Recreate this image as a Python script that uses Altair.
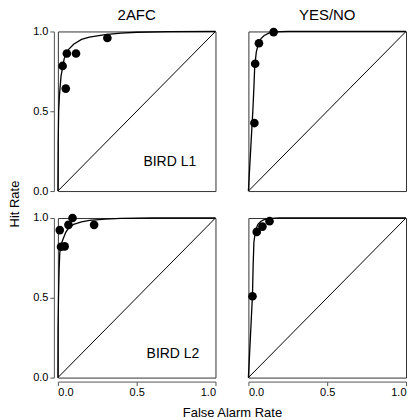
import altair as alt
import pandas as pd

# ---- data ----
tasks = ["2AFC", "YES/NO"]
birds = ["BIRD L1", "BIRD L2"]

# points (false alarm rate, hit rate)
pts_2afc_l1_x = [0.03, 0.057, 0.115, 0.05, 0.314]
pts_2afc_l1_y = [0.784, 0.862, 0.862, 0.642, 0.959]
pts_yn_l1_x = [0.16, 0.067, 0.043, 0.038]
pts_yn_l1_y = [0.996, 0.926, 0.798, 0.426]
pts_2afc_l2_x = [0.012, 0.093, 0.067, 0.23, 0.02, 0.043]
pts_2afc_l2_y = [0.924, 1.0, 0.957, 0.957, 0.82, 0.822]
pts_yn_l2_x = [0.134, 0.089, 0.053, 0.026]
pts_yn_l2_y = [0.98, 0.946, 0.913, 0.51]

# fitted ROC curves
crv_2afc_l1_x = [0, 0.002, 0.005, 0.01, 0.02, 0.04, 0.07, 0.1, 0.15, 0.2, 0.3, 0.4, 0.5, 0.7, 1.0]
crv_2afc_l1_y = [0, 0.3, 0.5, 0.6, 0.72, 0.83, 0.89, 0.92, 0.95, 0.965, 0.98, 0.99, 0.995, 0.999, 1.0]
crv_yn_l1_x = [0, 0.01, 0.02, 0.028, 0.035, 0.04, 0.05, 0.065, 0.08, 0.1, 0.13, 0.16, 0.25, 1.0]
crv_yn_l1_y = [0, 0.18, 0.36, 0.5, 0.65, 0.78, 0.87, 0.93, 0.955, 0.975, 0.99, 0.997, 1.0, 1.0]
crv_2afc_l2_x = [0, 0.001, 0.004, 0.008, 0.012, 0.02, 0.03, 0.05, 0.07, 0.1, 0.15, 0.2, 0.3, 0.4, 0.6, 1.0]
crv_2afc_l2_y = [0, 0.3, 0.5, 0.68, 0.78, 0.83, 0.86, 0.91, 0.94, 0.96, 0.975, 0.985, 0.993, 0.997, 1.0, 1.0]
crv_yn_l2_x = [0, 0.01, 0.02, 0.026, 0.03, 0.035, 0.045, 0.06, 0.08, 0.1, 0.14, 0.2, 1.0]
crv_yn_l2_y = [0, 0.2, 0.4, 0.52, 0.7, 0.85, 0.92, 0.96, 0.98, 0.99, 0.998, 1.0, 1.0]

diag_x = [0.0, 1.0]
diag_y = [0.0, 1.0]

label_x = [0.71, 0.73]
label_y = [0.18, 0.15]

panels = [
    ("2AFC", "BIRD L1", pts_2afc_l1_x, pts_2afc_l1_y, crv_2afc_l1_x, crv_2afc_l1_y),
    ("YES/NO", "BIRD L1", pts_yn_l1_x, pts_yn_l1_y, crv_yn_l1_x, crv_yn_l1_y),
    ("2AFC", "BIRD L2", pts_2afc_l2_x, pts_2afc_l2_y, crv_2afc_l2_x, crv_2afc_l2_y),
    ("YES/NO", "BIRD L2", pts_yn_l2_x, pts_yn_l2_y, crv_yn_l2_x, crv_yn_l2_y),
]

rows = []
for task, bird, px, py, cx, cy in panels:
    for x, y in zip(px, py):
        rows.append(dict(task=task, bird=bird, kind="pt", x=x, y=y, text=""))
    for x, y in zip(cx, cy):
        rows.append(dict(task=task, bird=bird, kind="curve", x=x, y=y, text=""))
    for x, y in zip(diag_x, diag_y):
        rows.append(dict(task=task, bird=bird, kind="diag", x=x, y=y, text=""))
for bird, lx, ly in zip(birds, label_x, label_y):
    rows.append(dict(task="2AFC", bird=bird, kind="label", x=lx, y=ly, text=bird))

df = pd.DataFrame(rows)

xs = alt.Scale(domain=[0, 1], nice=False)
ys = alt.Scale(domain=[0, 1], nice=False)
xax = alt.Axis(values=[0, 0.5, 1], format=".1f", title=None, grid=False, labelPadding=1)
yax = alt.Axis(values=[0, 0.5, 1], format=".1f", title=None, grid=False, labelPadding=2)

base = alt.Chart().encode(
    x=alt.X("x:Q", scale=xs, axis=xax),
    y=alt.Y("y:Q", scale=ys, axis=yax),
)

diag = base.transform_filter(alt.datum.kind == "diag").mark_line(color="black", strokeWidth=1)
curve = base.transform_filter(alt.datum.kind == "curve").mark_line(color="black", strokeWidth=1.3)
pts = base.transform_filter(alt.datum.kind == "pt").mark_circle(color="black", size=75, opacity=1)
lab = base.transform_filter(alt.datum.kind == "label").mark_text(
    fontSize=14, color="black", align="center", baseline="middle"
).encode(text="text:N")

chart = (
    alt.layer(diag, curve, pts, lab, data=df)
    .properties(width=158, height=160)
    .facet(
        column=alt.Column(
            "task:N", sort=tasks, title="False Alarm Rate",
            header=alt.Header(labelFontSize=15, labelPadding=3, labelColor="black",
                              labelOrient="top", titleOrient="bottom",
                              titleFontSize=13, titleFontWeight="normal",
                              titleColor="black", titlePadding=0),
        ),
        row=alt.Row(
            "bird:N", sort=birds, title="Hit Rate",
            header=alt.Header(labels=False, labelPadding=0, titleOrient="left",
                              titleFontSize=13, titleFontWeight="normal",
                              titleColor="black", titlePadding=0),
        ),
        spacing={"row": 18, "column": 25},
    )
    .configure(font="Liberation Sans")
    .configure_view(stroke="#333", strokeWidth=1)
    .configure_axis(
        labelFontSize=11, labelColor="black", domainColor="#555",
        tickColor="#555", tickSize=4,
    )
    .properties(padding={"left": 0, "top": 0, "right": 0, "bottom": 0})
)

chart.save("out.html", embed_options={"renderer": "svg", "actions": False})
